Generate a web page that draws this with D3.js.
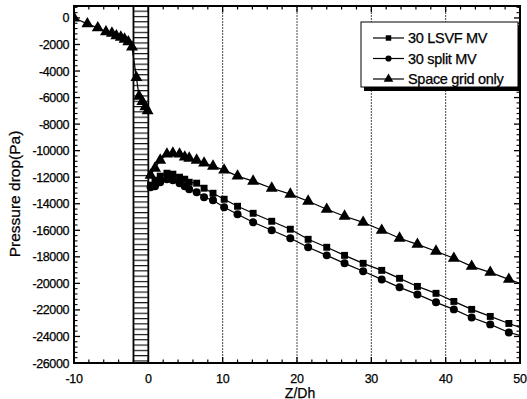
<!DOCTYPE html>
<html><head><meta charset="utf-8">
<script src="https://cdn.jsdelivr.net/npm/d3@7"></script>
<style>
html,body{margin:0;padding:0;background:#fff;}
svg{display:block;font-family:"Liberation Sans",Arial,sans-serif;}
text{fill:#000;stroke:#000;stroke-width:0.25px;}
</style></head><body>
<svg id="chart" width="527" height="399"></svg>
<script>
// ---- data ----
const seriesNames = ["30 LSVF MV", "30 split MV", "Space grid only"];
// upstream of the grid (all series coincide; drawn with triangles)
const upZ = [-10, -8.2, -6.8, -5.7, -4.9, -4.3, -3.7, -3.2, -2.7, -2.2, -1.6, -1.25, -0.8, -0.4, -0.1];
const upP = [0, -450, -750, -1050, -1150, -1350, -1450, -1600, -1800, -2200, -4500, -5900, -6300, -6700, -7000];
// downstream
const downZ = [0.3, 0.9, 1.6, 2.5, 3.3, 4.2, 4.9, 5.5, 6.5, 7.5, 8.7, 10.2, 12.0, 14.1, 16.6, 19.1, 21.5, 24.0, 26.4, 28.9, 31.4, 33.8, 36.2, 38.7, 41.1, 43.5, 46.0, 48.5, 50];
const lsvfP = [-12600, -12230, -11920, -11700, -11770, -12000, -12150, -12380, -12450, -12830, -13210, -13660, -14190, -14720, -15320, -15920, -16680, -17280, -17890, -18490, -19020, -19620, -20230, -20750, -21360, -21960, -22490, -23020, -23320];
const splitP = [-12750, -12680, -12380, -12150, -12230, -12450, -12680, -12910, -13130, -13510, -13740, -14260, -14790, -15400, -16000, -16600, -17280, -17890, -18490, -19090, -19700, -20300, -20830, -21430, -21960, -22570, -23090, -23700, -23920];
const gridP = [-11850, -11320, -10720, -10260, -10190, -10260, -10490, -10570, -10720, -10940, -11170, -11470, -11920, -12300, -12830, -13280, -13810, -14420, -14940, -15400, -16000, -16600, -17060, -17580, -18110, -18720, -19170, -19700, -20000];
const xTicks = [-10, 0, 10, 20, 30, 40, 50];
const yTicks = [0, -2000, -4000, -6000, -8000, -10000, -12000, -14000, -16000, -18000, -20000, -22000, -24000, -26000];
const gridRegion = [-2, 0];
const vGridLines = [10, 20, 30, 40];

// ---- layout ----
const L = 74, R = 520, T = 6, B = 363;
const svg = d3.select("#chart");
const x = d3.scaleLinear().domain([-10, 50]).range([L, R]);
const y = d3.scaleLinear().domain([-26000, 900]).range([B, T]);

const defs = svg.append("defs");
defs.append("clipPath").attr("id", "clip").append("rect")
  .attr("x", L).attr("y", T).attr("width", R - L).attr("height", B - T);
const pat = defs.append("pattern").attr("id", "hatch").attr("patternUnits", "userSpaceOnUse")
  .attr("width", 20).attr("height", 5.3);
pat.append("rect").attr("width", 20).attr("height", 5.3).attr("fill", "#fff");
pat.append("line").attr("x1", 0).attr("x2", 20).attr("y1", 0.6).attr("y2", 0.6)
  .attr("stroke", "#000").attr("stroke-width", 1.1);

// vertical grid lines
svg.append("g").selectAll("line").data(vGridLines).join("line")
  .attr("x1", d => x(d)).attr("x2", d => x(d)).attr("y1", T).attr("y2", B)
  .attr("stroke", "#333").attr("stroke-width", 0.9).attr("stroke-dasharray", "2,1");

// hatched spacer-grid region
svg.append("rect")
  .attr("x", x(gridRegion[0])).attr("y", T)
  .attr("width", x(gridRegion[1]) - x(gridRegion[0])).attr("height", B - T)
  .attr("fill", "url(#hatch)").attr("stroke", "#000").attr("stroke-width", 1.8);

// axes
function minorRange(a, b, s) { return d3.range(a, b + s / 2, s); }
const gx = svg.append("g");
const xMajor = xTicks, xMinor = minorRange(-10, 50, 2).filter(v => !xTicks.includes(v));
[[B, -1], [T, 1]].forEach(([yy, dir]) => {
  gx.append("g").selectAll("line").data(xMajor).join("line")
    .attr("x1", d => x(d)).attr("x2", d => x(d)).attr("y1", yy).attr("y2", yy + dir * 6)
    .attr("stroke", "#000").attr("stroke-width", 1.3);
  gx.append("g").selectAll("line").data(xMinor).join("line")
    .attr("x1", d => x(d)).attr("x2", d => x(d)).attr("y1", yy).attr("y2", yy + dir * 3.5)
    .attr("stroke", "#000").attr("stroke-width", 1.2);
});
const yMinor = minorRange(-26000, 800, 400).filter(v => !yTicks.includes(v));
[[L, 1], [R, -1]].forEach(([xx, dir]) => {
  gx.append("g").selectAll("line").data(yTicks).join("line")
    .attr("x1", xx).attr("x2", xx + dir * 6).attr("y1", d => y(d)).attr("y2", d => y(d))
    .attr("stroke", "#000").attr("stroke-width", 1.3);
  gx.append("g").selectAll("line").data(yMinor).join("line")
    .attr("x1", xx).attr("x2", xx + dir * 3.5).attr("y1", d => y(d)).attr("y2", d => y(d))
    .attr("stroke", "#000").attr("stroke-width", 1.1);
});
// tick labels
gx.append("g").selectAll("text").data(xTicks).join("text")
  .attr("x", d => x(d)).attr("y", 383).attr("text-anchor", "middle")
  .attr("font-size", 12.5).attr("letter-spacing", -0.3).text(d => d);
gx.append("g").selectAll("text").data(yTicks).join("text")
  .attr("x", 69).attr("y", d => y(d) + 4.5).attr("text-anchor", "end")
  .attr("font-size", 12.5).attr("letter-spacing", -0.4).text(d => d);
// axis titles
svg.append("text").attr("x", 300).attr("y", 397.5).attr("text-anchor", "middle")
  .attr("font-size", 14).text("Z/Dh");
svg.append("text").attr("transform", "translate(20,194) rotate(-90)").attr("text-anchor", "middle")
  .attr("font-size", 15.5).text("Pressure drop(Pa)");

// data
const plot = svg.append("g").attr("clip-path", "url(#clip)");
const line = d3.line().x(d => x(d[0])).y(d => y(d[1]));
const sqr = d3.symbol().type(d3.symbolSquare).size(48);
const cir = d3.symbol().type(d3.symbolCircle).size(50);
const tri = d3.symbol().type(d3.symbolTriangle).size(62);

const upData = upZ.map((z, i) => [z, upP[i]]);
const series = [
  { name: seriesNames[0], data: downZ.map((z, i) => [z, lsvfP[i]]), sym: sqr },
  { name: seriesNames[1], data: downZ.map((z, i) => [z, splitP[i]]), sym: cir },
  { name: seriesNames[2], data: downZ.map((z, i) => [z, gridP[i]]), sym: tri }
];
series.forEach(s => {
  plot.append("path").attr("d", line(s.data)).attr("fill", "none").attr("stroke", "#000").attr("stroke-width", 1.2);
  plot.append("g").selectAll("path").data(s.data.filter(d => d[0] < 50)).join("path")
    .attr("transform", d => `translate(${x(d[0])},${y(d[1])})`).attr("d", s.sym).attr("fill", "#000");
});
plot.append("path").attr("d", line(upData)).attr("fill", "none").attr("stroke", "#000").attr("stroke-width", 1.2);
plot.append("g").selectAll("path").data(upData).join("path")
  .attr("transform", d => `translate(${x(d[0])},${y(d[1])})`).attr("d", tri).attr("fill", "#000");

// frame
svg.append("rect").attr("x", L).attr("y", T).attr("width", R - L).attr("height", B - T)
  .attr("fill", "none").attr("stroke", "#000").attr("stroke-width", 2);

// legend
const lg = svg.append("g");
lg.append("rect").attr("x", 364).attr("y", 25).attr("width", 157).attr("height", 66).attr("fill", "#000");
lg.append("rect").attr("x", 361).attr("y", 22).attr("width", 157).attr("height", 65)
  .attr("fill", "#fff").attr("stroke", "#000").attr("stroke-width", 1);
const syms = [sqr, cir, tri];
seriesNames.forEach((n, i) => {
  const yy = 38 + i * 20.5;
  lg.append("line").attr("x1", 373).attr("x2", 404).attr("y1", yy).attr("y2", yy)
    .attr("stroke", "#000").attr("stroke-width", 1.2);
  lg.append("path").attr("transform", `translate(388.5,${yy})`).attr("d", syms[i].size(i === 2 ? 40 : 30)).attr("fill", "#000");
  lg.append("text").attr("x", 408).attr("y", yy + 5).attr("font-size", 14.5).attr("letter-spacing", -0.3).text(n);
});
</script>
</body></html>
